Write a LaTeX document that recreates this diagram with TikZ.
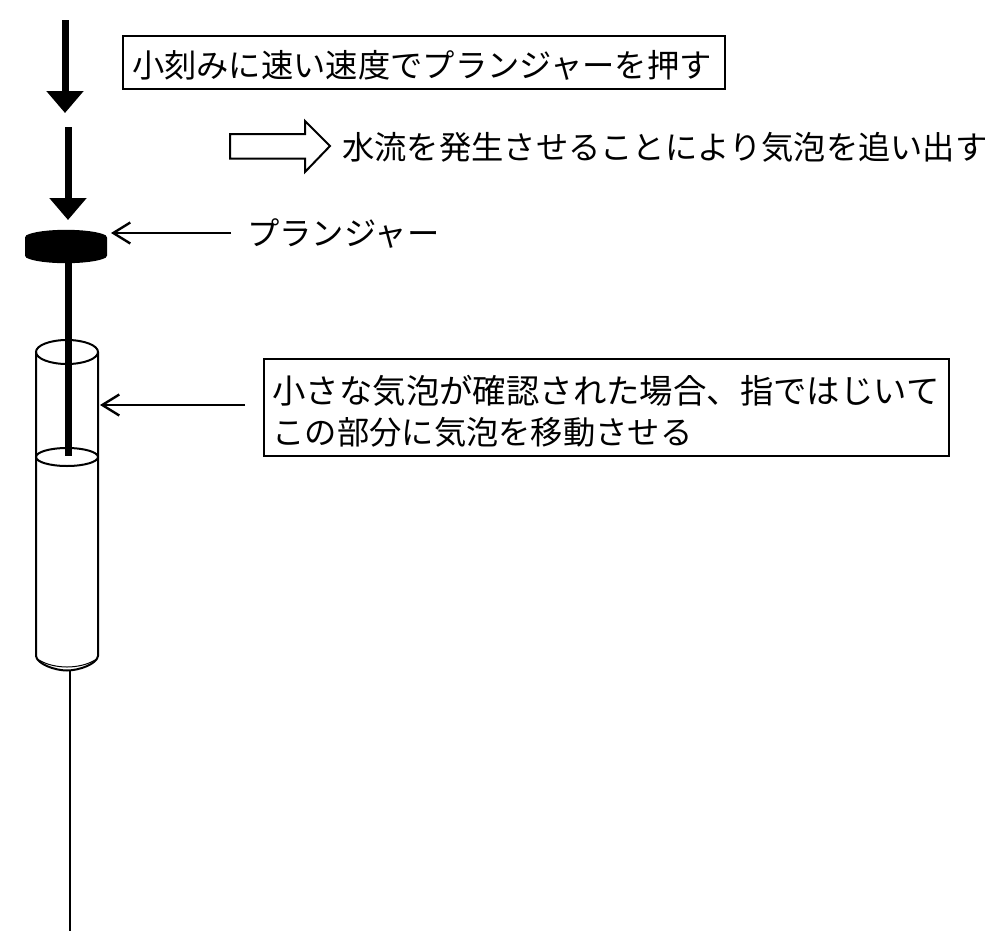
\documentclass[tikz,border=0pt]{standalone}
\usepackage{fontspec}
\setmainfont{Noto Sans CJK JP}
\usetikzlibrary{arrows.meta}
\tikzset{
  jp/.style={font=\fontsize{32.3bp}{41bp}\selectfont,inner sep=0pt,text=black},
  labelbox/.style={draw=black,line width=2bp,fill=white},
  bigarrow/.style={line width=7bp,-{Triangle[length=22bp,width=36bp]}},
  thinarrow/.style={line width=2.2bp,-{Straight Barb[length=17bp,width=21bp,line width=2.4bp]}},
  outline/.style={draw=black,line width=2bp},
}
\begin{document}
\begin{tikzpicture}[x=1bp,y=-1bp]
\useasboundingbox (0,0) rectangle (1000,949);
% press arrows
\coordinate (a1s) at (65,20); \coordinate (a1e) at (65,113);
\coordinate (a2s) at (68,127); \coordinate (a2e) at (68,220);
\draw[bigarrow] (a1s) -- (a1e);
\draw[bigarrow] (a2s) -- (a2e);
% needle
\coordinate (ns) at (70,670); \coordinate (ne) at (70,931);
\draw[line width=1.8bp] (ns) -- (ne);
% barrel
\draw[outline] (36,352) -- (36,656) .. controls (37,664) and (55,670.5) .. (67,670.5) .. controls (79,670.5) and (97,664) .. (98,656) -- (98,352);
\draw[line width=1bp] (39,660) .. controls (47,665) and (58,667) .. (67,667) .. controls (76,667) and (87,665) .. (95,660);
\draw[outline] (67,352) ellipse [x radius=31,y radius=12];
\draw[outline] (67,457) ellipse [x radius=31,y radius=9];
% plunger
\coordinate (ps) at (68,255); \coordinate (pe) at (68,456);
\draw[line width=7bp] (ps) -- (pe);
\fill[black,rounded corners=1.5bp] (25,236) .. controls (40,228) and (92,228) .. (107,236) -- (107,257) .. controls (92,265) and (40,265) .. (25,257) -- cycle;
\coordinate (plungertip) at (111,233);
\coordinate (barreltip) at (100,405);
% labels
\node[jp,labelbox,minimum width=602bp,minimum height=53bp,anchor=north west,text width=584bp,align=left] (t1) at (122,35) {\rule{0pt}{33bp}小刻みに速い速度でプランジャーを押す};
\node[jp,anchor=west] (t2) at (342,147) {水流を発生させることにより気泡を追い出す};
\node[jp,anchor=west] (t3) at (247,234) {プランジャー};
\node[jp,labelbox,minimum width=685bp,minimum height=97bp,anchor=north west,text width=668bp,align=left] (t4) at (263,358) {\rule{0pt}{36bp}{\fontsize{33.4bp}{41bp}\selectfont 小さな気泡が確認された場合、指ではじいて}\\この部分に気泡を移動させる};
\coordinate (t3w) at (231,233);
\coordinate (t4w) at (245,405);
\draw[thinarrow] (t3w) -- (plungertip);
\draw[thinarrow] (t4w) -- (barreltip);
% block arrow
\draw[outline,fill=white,line join=miter] (230,134) -- (305,134) -- (305,121) -- (330,146) -- (305,172) -- (305,158.5) -- (230,158.5) -- cycle;
\end{tikzpicture}
\end{document}
